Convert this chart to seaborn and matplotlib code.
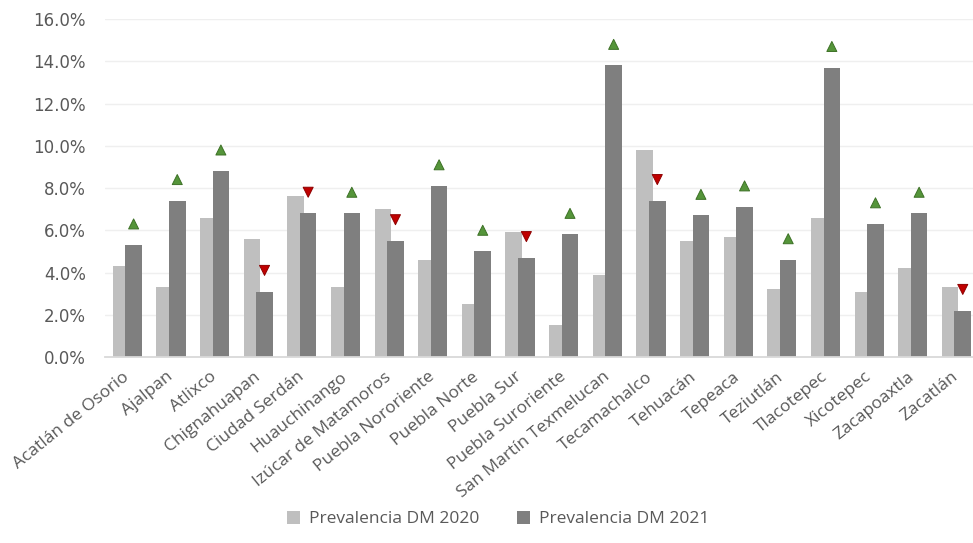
import matplotlib
matplotlib.use("Agg")
import matplotlib.pyplot as plt
import numpy as np
import pandas as pd
import seaborn as sns
from matplotlib.patches import Patch
from matplotlib.ticker import PercentFormatter

# Jurisdicciones sanitarias
municipios = [
    "Acatlán de Osorio", "Ajalpan", "Atlixco", "Chignahuapan", "Ciudad Serdán",
    "Huauchinango", "Izúcar de Matamoros", "Puebla Nororiente", "Puebla Norte",
    "Puebla Sur", "Puebla Suroriente", "San Martín Texmelucan", "Tecamachalco",
    "Tehuacán", "Tepeaca", "Teziutlán", "Tlacotepec", "Xicotepec",
    "Zacapoaxtla", "Zacatlán",
]
# Prevalencia de diabetes mellitus (%)
prev_2020 = [4.3, 3.3, 6.6, 5.6, 7.6, 3.3, 7.0, 4.6, 2.5, 5.9,
             1.5, 3.9, 9.8, 5.5, 5.7, 3.2, 6.6, 3.1, 4.2, 3.3]
prev_2021 = [5.3, 7.4, 8.8, 3.1, 6.8, 6.8, 5.5, 8.1, 5.0, 4.7,
             5.8, 13.8, 7.4, 6.7, 7.1, 4.6, 13.7, 6.3, 6.8, 2.2]
series = ["Prevalencia DM 2020", "Prevalencia DM 2021"]

colores = ["#BFBFBF", "#7F7F7F"]
texto = "#595959"
n = len(municipios)

df = pd.DataFrame({
    "Municipio": municipios * 2,
    "Prevalencia": np.array(prev_2020 + prev_2021) / 100,
    "Serie": [series[0]] * n + [series[1]] * n,
})

sns.set_theme(style="white")
plt.rcParams["font.family"] = ["DejaVu Sans"]

fig = plt.figure(figsize=(9.73, 5.43), dpi=100)
fig.patch.set_facecolor("white")
ax = fig.add_axes([0.1084, 0.3425, 0.897, 0.6225])

sns.barplot(data=df, x="Municipio", y="Prevalencia", hue="Serie",
            palette=colores, saturation=1, width=0.76, gap=0,
            linewidth=0, legend=False, ax=ax)

# slight overlap of the two bars in each group (2021 drawn on top)
for bar in ax.containers[0]:
    bar.set_x(bar.get_x() + 0.045)
for bar in ax.containers[1]:
    bar.set_x(bar.get_x() - 0.045)

# change indicators above the 2021 bar
cambio = ["sube" if b > a else "baja" for a, b in zip(prev_2020, prev_2021)]
marcas = pd.DataFrame({
    "x": np.arange(n) + 0.145,
    "y": np.array(prev_2021) / 100 + 0.0100,
    "cambio": cambio,
})
sns.scatterplot(data=marcas, x="x", y="y", hue="cambio", style="cambio",
                markers={"sube": "^", "baja": "v"},
                palette={"sube": "#55953A", "baja": "#C00000"},
                s=52, linewidth=0.7, legend=False, ax=ax, zorder=5)
bordes = {"sube": "#3D7126", "baja": "#8E0000"}
ax.collections[-1].set_edgecolors([bordes[c] for c in cambio])

ax.set_xlim(-0.5, n - 0.5)
ax.set_ylim(0, 0.16)
ax.set_yticks(np.arange(0, 0.161, 0.02))
ax.yaxis.set_major_formatter(PercentFormatter(1, decimals=1))
ax.set_xlabel("")
ax.set_ylabel("")

ax.yaxis.grid(True, color="#EFEFEF", linewidth=1)
ax.set_axisbelow(True)
for s in ["top", "right", "left"]:
    ax.spines[s].set_visible(False)
ax.spines["bottom"].set_color("#D9D9D9")
ax.spines["bottom"].set_linewidth(1.3)

ax.tick_params(axis="y", length=0, pad=14, labelsize=12, labelcolor=texto)
ax.tick_params(axis="x", length=0, pad=13)
ax.set_xticks(range(n))
ax.set_xticklabels(municipios, rotation=39, ha="right", va="center",
                   rotation_mode="anchor", family="Open Sans",
                   fontsize=12.5, color=texto)

handles = [Patch(facecolor=c, edgecolor="none", label=s)
           for c, s in zip(colores, series)]
fig.legend(handles=handles, loc="lower center", bbox_to_anchor=(0.512, 0.0),
           ncol=2, frameon=False, handlelength=0.75, handleheight=0.75,
           handletextpad=0.5, columnspacing=2.2,
           prop={"family": "Open Sans", "size": 12.5}, labelcolor=texto)

fig.savefig("out.png", dpi=100)
